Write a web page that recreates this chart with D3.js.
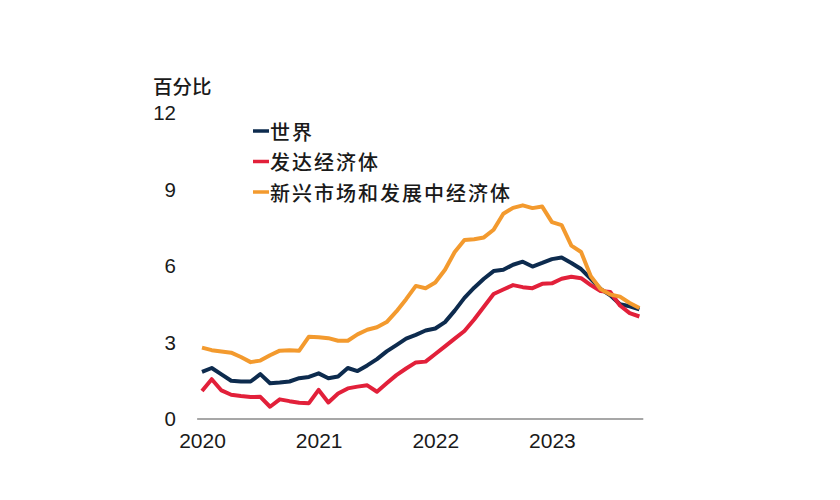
<!DOCTYPE html>
<html>
<head>
<meta charset="utf-8">
<script src="https://cdn.jsdelivr.net/npm/d3@7"></script>
<style>
  html, body { margin: 0; padding: 0; background: #ffffff; }
  svg { display: block; }
</style>
</head>
<body>
<svg id="chart" width="840" height="500"></svg>
<script>
// ---- Data (monthly, Jan 2020 – Oct 2023) ----
const yearLabels = ["2020", "2021", "2022", "2023"];
const yearTickIndex = [0, 12, 24, 36];
const yTicks = [0, 3, 6, 9, 12];
const seriesNames = ["世界", "发达经济体", "新兴市场和发展中经济体"];
const seriesColors = ["#0d2b4e", "#e2203a", "#f39a2e"];

const world = [
  1.85, 2.0, 1.75, 1.5, 1.47, 1.47, 1.76, 1.40, 1.43, 1.47, 1.6, 1.65,
  1.79, 1.6, 1.67, 2.0, 1.88, 2.1, 2.35, 2.65, 2.9, 3.15, 3.3, 3.47,
  3.55, 3.8, 4.25, 4.75, 5.15, 5.5, 5.8, 5.85, 6.05, 6.17, 5.98, 6.12,
  6.27, 6.33, 6.12, 5.88, 5.5, 5.1, 4.85, 4.5, 4.42, 4.3
];
const advanced = [
  1.1, 1.56, 1.12, 0.95, 0.9, 0.86, 0.87, 0.48, 0.77, 0.7, 0.64, 0.62,
  1.14, 0.65, 1.0, 1.2, 1.27, 1.32, 1.07, 1.4, 1.72, 1.98, 2.22, 2.25,
  2.55, 2.85, 3.15, 3.45, 3.9, 4.4, 4.9, 5.08, 5.25, 5.17, 5.13, 5.3,
  5.32, 5.5, 5.58, 5.52, 5.25, 5.02, 4.98, 4.45, 4.15, 4.02
];
const emde = [
  2.8, 2.7, 2.65, 2.6, 2.43, 2.23, 2.29, 2.5, 2.68, 2.7, 2.68, 3.23,
  3.21, 3.17, 3.07, 3.07, 3.32, 3.5, 3.6, 3.8, 4.22, 4.7, 5.22, 5.13,
  5.35, 5.85, 6.55, 7.02, 7.05, 7.12, 7.42, 8.05, 8.28, 8.38, 8.27, 8.33,
  7.72, 7.6, 6.8, 6.55, 5.6, 5.1, 4.88, 4.8, 4.55, 4.35
];
const allSeries = [world, advanced, emde];

// ---- Layout ----
const svg = d3.select("#chart");
const x = d3.scaleLinear().domain([0, 45]).range([202, 639.4]);
const y = d3.scaleLinear().domain([0, 12]).range([419, 113]);

const numFont = "'Liberation Sans', Arial, sans-serif";
const cjkFont = "'Noto Sans CJK SC', 'Noto Sans', sans-serif";

// Axis baseline
svg.append("line")
  .attr("x1", x(-0.5)).attr("x2", x(45.4))
  .attr("y1", y(0)).attr("y2", y(0))
  .attr("stroke", "#8a8a8a").attr("stroke-width", 1.6);

// X axis labels
const xAxis = d3.axisBottom(x)
  .tickValues(yearTickIndex)
  .tickFormat((d, i) => yearLabels[i])
  .tickSize(0)
  .tickPadding(14);
const gx = svg.append("g").attr("transform", `translate(0,${y(0)})`).call(xAxis);
gx.select(".domain").remove();
gx.selectAll("text")
  .attr("font-family", numFont).attr("font-size", 21).attr("fill", "#1a1a1a");

// Y axis labels
const yAxis = d3.axisLeft(y).tickValues(yTicks).tickSize(0).tickPadding(0);
const gy = svg.append("g").attr("transform", "translate(176,0)").call(yAxis);
gy.select(".domain").remove();
gy.selectAll("text")
  .attr("font-family", numFont).attr("font-size", 20.5).attr("fill", "#1a1a1a");

// Unit title
svg.append("text")
  .attr("x", 153).attr("y", 85)
  .attr("dominant-baseline", "central")
  .attr("font-family", cjkFont).attr("font-size", 19.5).attr("font-weight", 500)
  .attr("fill", "#1a1a1a")
  .text("百分比");

// Lines
const line = d3.line().x((d, i) => x(i)).y(d => y(d));
allSeries.forEach((s, k) => {
  svg.append("path")
    .datum(s)
    .attr("d", line)
    .attr("fill", "none")
    .attr("stroke", seriesColors[k])
    .attr("stroke-width", 4)
    .attr("stroke-linejoin", "round")
    .attr("stroke-linecap", "butt");
});

// Legend
const legendY = [131, 161.5, 192];
seriesNames.forEach((name, k) => {
  svg.append("line")
    .attr("x1", 253).attr("x2", 269)
    .attr("y1", legendY[k]).attr("y2", legendY[k])
    .attr("stroke", seriesColors[k]).attr("stroke-width", 3.5);
  svg.append("text")
    .attr("x", 270).attr("y", legendY[k])
    .attr("dominant-baseline", "central")
    .attr("font-family", cjkFont).attr("font-size", 20).attr("font-weight", 500)
    .attr("letter-spacing", 2)
    .attr("fill", "#1a1a1a")
    .text(name);
});
</script>
</body>
</html>
